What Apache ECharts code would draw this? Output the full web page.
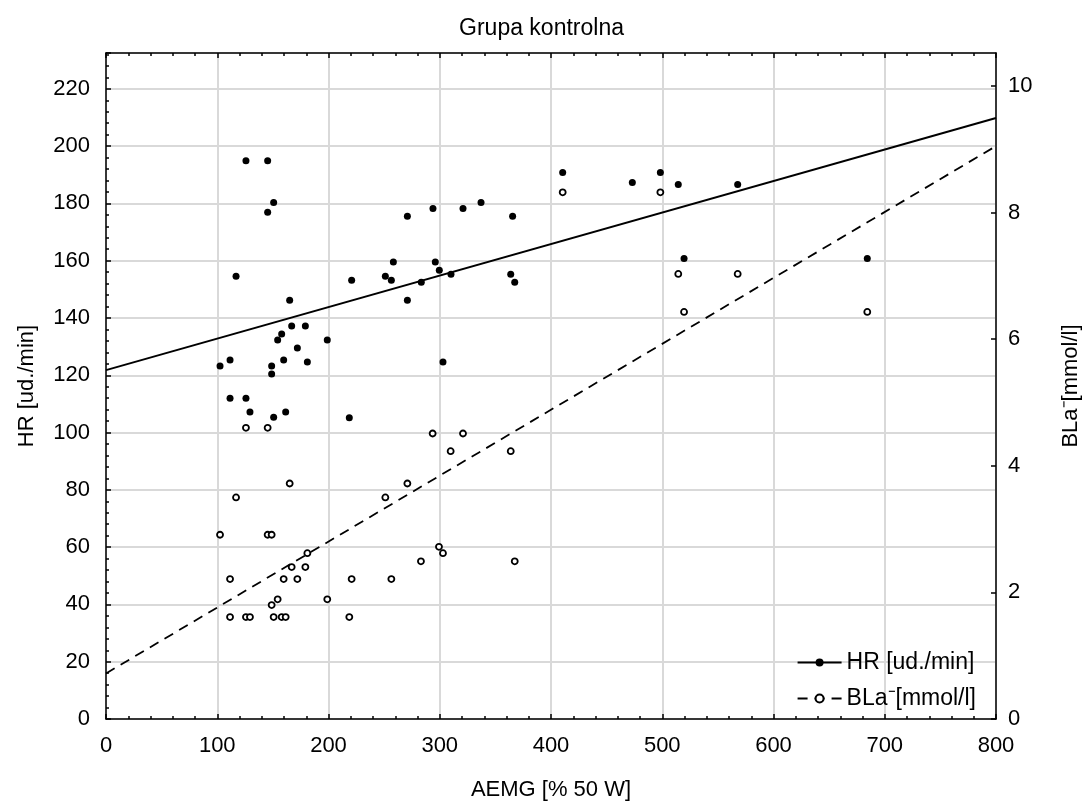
<!DOCTYPE html>
<html>
<head>
<meta charset="utf-8">
<script src="https://cdn.jsdelivr.net/npm/echarts@6/dist/echarts.min.js"></script>
<style>
  html, body { margin: 0; padding: 0; background: #fff; }
  #chart { width: 1083px; height: 805px; }
</style>
</head>
<body>
<div id="chart"></div>
<script>
// --- data ---
var hrPoints = [
  [102.5, 123.2], [111.5, 125.3], [111.5, 112.0], [116.9, 154.6], [125.8, 194.9],
  [125.8, 112.0], [129.4, 107.2], [145.3, 194.9], [145.3, 176.9], [148.9, 123.2],
  [148.9, 120.4], [150.7, 180.3], [150.7, 105.3], [154.3, 132.3], [157.9, 134.4],
  [159.7, 125.3], [161.5, 107.2], [165.1, 146.2], [166.9, 137.2], [172.0, 129.5],
  [179.2, 137.2], [181.0, 124.6], [198.9, 132.3], [218.7, 105.2], [220.8, 153.2],
  [251.1, 154.6], [256.5, 153.2], [258.3, 159.5], [270.9, 175.5], [270.9, 146.2],
  [283.4, 152.5], [293.9, 178.2], [296.0, 159.5], [299.6, 156.7], [302.9, 124.6],
  [310.1, 155.3], [320.9, 178.2], [337.1, 180.3], [363.8, 155.3], [365.5, 175.5],
  [367.4, 152.5], [410.5, 190.8], [473.1, 187.3], [498.3, 190.8], [514.4, 186.6],
  [519.6, 160.8], [567.8, 186.6], [684.3, 160.8]
];
var blaPoints = [
  [102.5, 2.91], [111.5, 2.21], [111.5, 1.61], [116.9, 3.50], [125.8, 4.60],
  [125.8, 1.61], [129.4, 1.61], [145.3, 4.60], [145.3, 2.91], [148.9, 2.91],
  [148.9, 1.80], [150.7, 1.61], [154.3, 1.89], [157.9, 1.61], [159.7, 2.21],
  [161.5, 1.61], [165.1, 3.72], [166.9, 2.40], [172.0, 2.21], [179.2, 2.40],
  [181.0, 2.62], [198.9, 1.89], [218.7, 1.61], [220.8, 2.21], [251.1, 3.50],
  [256.5, 2.21], [270.9, 3.72], [283.1, 2.49], [293.6, 4.51], [299.3, 2.72],
  [302.9, 2.62], [309.8, 4.23], [320.9, 4.51], [363.8, 4.23], [367.4, 2.49],
  [410.5, 8.32], [498.3, 8.32], [514.4, 7.03], [519.6, 6.43], [567.8, 7.03],
  [684.3, 6.43]
];
var hrFit = [[0, 121.8], [800, 209.8]];
var blaFit = [[0, 0.72], [800, 9.05]];
var hrName = 'HR [ud./min]';
var blaName = 'BLa\u207B[mmol/l]';

var font = 'Liberation Sans, Arial, sans-serif';
var grid = '#d9d9d9';
var axisLine = { show: true, onZero: false, lineStyle: { color: '#000', width: 1.5 } };
var tick = { inside: true, length: 5, lineStyle: { color: '#000', width: 1.5 } };
var minor = { show: true, splitNumber: 5, length: 3, lineStyle: { color: '#000', width: 1.5 } };
var label = { fontFamily: font, fontSize: 22, color: '#000' };

var chart = echarts.init(document.getElementById('chart'), null, { renderer: 'canvas' });
chart.setOption({
  animation: false,
  backgroundColor: '#fff',
  title: {
    text: 'Grupa kontrolna',
    left: 'center',
    top: 12,
    textStyle: { fontFamily: font, fontSize: 23, fontWeight: 'normal', color: '#000' }
  },
  grid: { left: 106, right: 87, top: 53, bottom: 86, containLabel: false, outerBoundsMode: 'none' },
  legend: {
    orient: 'vertical',
    right: 102,
    bottom: 90,
    itemWidth: 44,
    itemHeight: 10,
    itemGap: 13,
    data: [hrName, blaName],
    textStyle: { fontFamily: font, fontSize: 23, color: '#000' }
  },
  xAxis: [
    {
      type: 'value', position: 'bottom', min: 0, max: 800, interval: 100,
      axisLine: axisLine, axisTick: tick, minorTick: minor,
      splitLine: { show: true, lineStyle: { color: grid, width: 2 } },
      axisLabel: Object.assign({ margin: 16 }, label),
      name: 'AEMG [% 50 W]', nameLocation: 'middle', nameGap: 60,
      nameTextStyle: label
    },
    {
      type: 'value', position: 'top', min: 0, max: 800, interval: 100,
      axisLine: axisLine, axisTick: tick, minorTick: minor,
      splitLine: { show: false },
      axisLabel: { show: false }
    }
  ],
  yAxis: [
    {
      type: 'value', position: 'left', min: 0, max: 232.5, interval: 20,
      axisLine: axisLine, axisTick: tick, minorTick: minor,
      splitLine: { show: true, lineStyle: { color: grid, width: 2 } },
      axisLabel: Object.assign({
        margin: 16, showMaxLabel: false,
        formatter: function (v) { return v % 20 === 0 ? String(v) : ''; }
      }, label),
      name: hrName, nameLocation: 'middle', nameGap: 68, nameRotate: 90,
      nameTextStyle: label
    },
    {
      type: 'value', position: 'right', min: 0, max: 10.52, interval: 2,
      axisLine: axisLine, axisTick: tick,
      minorTick: { show: false },
      splitLine: { show: false },
      axisLabel: Object.assign({
        margin: 12, showMaxLabel: false,
        formatter: function (v) { return v % 2 === 0 ? String(v) : ''; }
      }, label),
      name: blaName, nameLocation: 'middle', nameGap: 64, nameRotate: 90,
      nameTextStyle: label
    }
  ],
  series: [
    {
      name: hrName, type: 'line', xAxisIndex: 0, yAxisIndex: 0, data: hrFit,
      symbol: 'circle', symbolSize: 7, showSymbol: false,
      itemStyle: { color: '#000' },
      lineStyle: { color: '#000', width: 2 }, z: 3
    },
    {
      name: blaName, type: 'line', xAxisIndex: 0, yAxisIndex: 1, data: blaFit,
      symbol: 'circle', symbolSize: 6, showSymbol: false,
      itemStyle: { color: '#fff', borderColor: '#000', borderWidth: 1.5 },
      lineStyle: { color: '#000', width: 1.8, type: [10, 7] }, z: 3
    },
    {
      name: hrName, type: 'scatter', xAxisIndex: 0, yAxisIndex: 0, data: hrPoints,
      symbol: 'circle', symbolSize: 7,
      itemStyle: { color: '#000', opacity: 1 }, z: 4
    },
    {
      name: blaName, type: 'scatter', xAxisIndex: 0, yAxisIndex: 1, data: blaPoints,
      symbol: 'circle', symbolSize: 6,
      itemStyle: { color: '#fff', borderColor: '#000', borderWidth: 1.8, opacity: 1 }, z: 4
    }
  ]
});
window.addEventListener('resize', function () { chart.resize(); });
</script>
</body>
</html>
